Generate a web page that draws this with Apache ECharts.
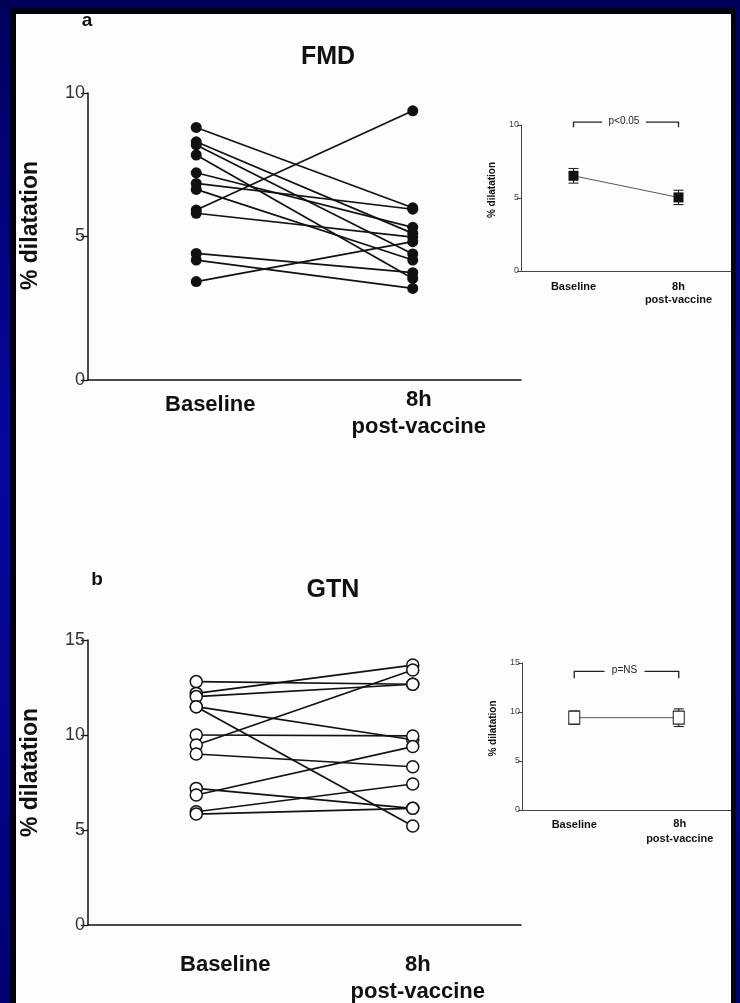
<!DOCTYPE html>
<html>
<head>
<meta charset="utf-8">
<script src="https://cdn.jsdelivr.net/npm/echarts@6/dist/echarts.min.js"></script>
<style>
  html, body { margin: 0; padding: 0; width: 740px; height: 1003px; overflow: hidden; }
  body { position: relative; background: linear-gradient(180deg, #00005c 0%, #0707a0 45%, #05058a 75%, #000070 100%); }
  #shadow { position: absolute; left: 10px; top: 8px; width: 726px; height: 1000px; background: #03030f; }
  #sheet { position: absolute; left: 16px; top: 14px; width: 715px; height: 989px; background: #fdfdfd; }
  #chart { position: absolute; left: 0; top: 0; width: 731px; height: 1003px; }
</style>
</head>
<body>
<div id="shadow"></div>
<div id="sheet"></div>
<div id="chart"></div>
<script>
// Paired measurements, one entry per subject (% dilatation)
const categories = ['Baseline', '8h\npost-vaccine'];
const fmdBaseline = [8.80, 8.30, 8.19, 7.84, 7.22, 6.85, 6.64, 5.92, 5.81, 4.41, 4.18, 3.43];
const fmdPost     = [6.00, 5.11, 4.39, 3.54, 5.32, 5.95, 4.18, 9.38, 4.98, 3.74, 3.19, 4.82];
const gtnBaseline = [12.81, 12.19, 12.02, 11.49, 11.49, 10.00, 9.47, 9.00, 7.19, 6.84, 5.96, 5.84];
const gtnPost     = [12.67, 13.68, 12.67, 9.75, 5.21, 9.95, 13.42, 8.33, 6.14, 9.39, 7.42, 6.14];

// Group summaries (mean and SEM) for the small panels
const fmdMean = [6.52, 5.04];
const fmdSem  = [0.50, 0.49];
const gtnMean = [9.42, 9.42];
const gtnSem  = [0.68, 0.90];

// Axis ticks
const fmdTicks = [0, 5, 10];
const gtnTicks = [0, 5, 10, 15];

// Significance annotations
const fmdNote = 'p<0.05';
const gtnNote = 'p=NS';

const FONT = 'Liberation Sans, Arial, sans-serif';
const INK = '#111';

const chart = echarts.init(document.getElementById('chart'), null, { renderer: 'canvas' });

function pairSeries(base, post, axisIdx, filled) {
  return base.map((b, i) => ({
    type: 'line',
    xAxisIndex: axisIdx,
    yAxisIndex: axisIdx,
    data: [b, post[i]],
    symbol: 'circle',
    symbolSize: filled ? 11 : 12,
    showAllSymbol: true,
    lineStyle: { color: INK, width: 1.7 },
    itemStyle: filled
      ? { color: INK, borderWidth: 0 }
      : { color: '#fff', borderColor: INK, borderWidth: 1.5 },
    emphasis: { disabled: true },
    silent: true,
    z: 3
  }));
}

function errorSeries(mean, sem, axisIdx, capHalf) {
  return {
    type: 'custom',
    xAxisIndex: axisIdx,
    yAxisIndex: axisIdx,
    data: mean.map((m, i) => [i, m - sem[i], m + sem[i]]),
    silent: true,
    z: 2,
    renderItem: (params, api) => {
      const lo = api.coord([api.value(0), api.value(1)]);
      const hi = api.coord([api.value(0), api.value(2)]);
      const st = { stroke: '#222', lineWidth: 1.1 };
      return {
        type: 'group',
        children: [
          { type: 'line', shape: { x1: hi[0], y1: hi[1], x2: lo[0], y2: lo[1] }, style: st },
          { type: 'line', shape: { x1: hi[0] - capHalf, y1: hi[1], x2: hi[0] + capHalf, y2: hi[1] }, style: st },
          { type: 'line', shape: { x1: lo[0] - capHalf, y1: lo[1], x2: lo[0] + capHalf, y2: lo[1] }, style: st }
        ]
      };
    }
  };
}

function bracketSeries(axisIdx, topVal, footVal, note, halfGap) {
  return {
    type: 'custom',
    xAxisIndex: axisIdx,
    yAxisIndex: axisIdx,
    data: [[0, 1, topVal, footVal]],
    silent: true,
    clip: false,
    z: 2,
    renderItem: (params, api) => {
      const a = api.coord([0, api.value(2)]);
      const b = api.coord([1, api.value(2)]);
      const footY = api.coord([0, api.value(3)])[1];
      const mid = (a[0] + b[0]) / 2 - 2;
      const st = { stroke: '#222', lineWidth: 1.3, fill: null };
      return {
        type: 'group',
        children: [
          { type: 'polyline', shape: { points: [[a[0], footY], [a[0], a[1]], [mid - halfGap, a[1]]] }, style: st },
          { type: 'polyline', shape: { points: [[mid + halfGap, b[1]], [b[0], b[1]], [b[0], footY]] }, style: st },
          { type: 'text', x: mid, y: a[1] - 1, style: { text: note, fill: '#222', font: '10px ' + FONT, align: 'center', verticalAlign: 'middle' } }
        ]
      };
    }
  };
}

function meanSeries(mean, axisIdx, filled) {
  return {
    type: 'line',
    xAxisIndex: axisIdx,
    yAxisIndex: axisIdx,
    data: mean,
    symbol: 'rect',
    symbolSize: filled ? [10, 10] : [11, 13],
    showAllSymbol: true,
    lineStyle: { color: '#555', width: 1 },
    itemStyle: filled
      ? { color: INK, borderWidth: 0 }
      : { color: '#fff', borderColor: '#222', borderWidth: 1.1 },
    emphasis: { disabled: true },
    silent: true,
    z: 3
  };
}

function bigYAxis(grid, ticks, shiftUp) {
  return {
    gridIndex: grid, type: 'value',
    min: ticks[0], max: ticks[ticks.length - 1], interval: ticks[1] - ticks[0],
    axisLine: { show: true, lineStyle: { color: INK, width: 1.5 } },
    axisTick: { show: true, length: 7, lineStyle: { color: INK, width: 1.3 } },
    axisLabel: { color: '#333', fontSize: 18, margin: 3, fontFamily: FONT },
    splitLine: { show: false },
    name: '% dilatation', nameLocation: 'middle', nameRotate: 90, nameGap: 46,
    nameTextStyle: { fontSize: 23, fontWeight: 'bold', color: INK, fontFamily: FONT, padding: [0, 0, 0, shiftUp * 2] }
  };
}

function smallYAxis(grid, ticks, shiftUp) {
  return {
    gridIndex: grid, type: 'value',
    min: ticks[0], max: ticks[ticks.length - 1], interval: ticks[1] - ticks[0],
    axisLine: { show: true, lineStyle: { color: '#444', width: 1 } },
    axisTick: { show: true, length: 4, lineStyle: { color: '#444', width: 1 } },
    axisLabel: { color: '#444', fontSize: 9, margin: 2, fontFamily: FONT },
    splitLine: { show: false },
    name: '% dilatation', nameLocation: 'middle', nameRotate: 90, nameGap: 24,
    nameTextStyle: { fontSize: 10, fontWeight: 'bold', color: INK, fontFamily: FONT, padding: [0, 0, 0, shiftUp * 2] }
  };
}

function catAxis(grid, o) {
  return {
    gridIndex: grid, type: 'category', data: categories, boundaryGap: true,
    axisLine: { show: true, lineStyle: { color: o.lineColor, width: o.lineWidth } },
    axisTick: { show: false },
    splitLine: { show: false },
    axisLabel: {
      interval: 0, margin: o.margin,
      formatter: (v, i) => v.split('\n').map(s => '{' + (i === 0 ? 'b' : 'p') + '|' + s + '}').join('\n'),
      rich: {
        b: { fontSize: o.size, fontWeight: 'bold', color: INK, fontFamily: FONT, lineHeight: o.lh, padding: [o.baseDown, 0, 0, o.baseRight * 2] },
        p: { fontSize: o.size, fontWeight: 'bold', color: INK, fontFamily: FONT, lineHeight: o.lh, padding: [0, 0, 0, o.postRight * 2] }
      }
    }
  };
}

const option = {
  backgroundColor: 'transparent',
  animation: false,
  grid: [
    { left: 88, top: 93, width: 433, height: 287 },
    { left: 521, top: 125, width: 222, height: 146 },
    { left: 88, top: 640, width: 433, height: 285 },
    { left: 522, top: 663, width: 222, height: 147 }
  ],
  xAxis: [
    catAxis(0, { lineColor: INK, lineWidth: 1.5, margin: 6, size: 22, lh: 27, baseDown: 11, baseRight: 14, postRight: 6 }),
    catAxis(1, { lineColor: '#444', lineWidth: 1, margin: 9, size: 11, lh: 13, baseDown: 0, baseRight: 0, postRight: 0 }),
    catAxis(2, { lineColor: INK, lineWidth: 1.5, margin: 26, size: 22, lh: 27, baseDown: 0, baseRight: 29, postRight: 5 }),
    catAxis(3, { lineColor: '#444', lineWidth: 1, margin: 6, size: 11, lh: 15, baseDown: 3, baseRight: 0, postRight: 1 })
  ],
  yAxis: [
    bigYAxis(0, fmdTicks, 11),
    smallYAxis(1, fmdTicks, 8),
    bigYAxis(2, gtnTicks, 10),
    smallYAxis(3, gtnTicks, 8)
  ],
  graphic: [
    { type: 'text', x: 87, y: 21, style: { text: 'a', font: 'bold 19px ' + FONT, fill: INK, align: 'center', verticalAlign: 'middle' } },
    { type: 'text', x: 328, y: 57, style: { text: 'FMD', font: 'bold 25px ' + FONT, fill: INK, align: 'center', verticalAlign: 'middle' } },
    { type: 'text', x: 97, y: 580, style: { text: 'b', font: 'bold 19px ' + FONT, fill: INK, align: 'center', verticalAlign: 'middle' } },
    { type: 'text', x: 333, y: 590, style: { text: 'GTN', font: 'bold 25px ' + FONT, fill: INK, align: 'center', verticalAlign: 'middle' } }
  ],
  series: [
    ...pairSeries(fmdBaseline, fmdPost, 0, true),
    errorSeries(fmdMean, fmdSem, 1, 5),
    meanSeries(fmdMean, 1, true),
    bracketSeries(1, 10.2, 9.85, fmdNote, 22),
    ...pairSeries(gtnBaseline, gtnPost, 2, false),
    errorSeries(gtnMean, gtnSem, 3, 5),
    meanSeries(gtnMean, 3, false),
    bracketSeries(3, 14.15, 13.45, gtnNote, 20)
  ]
};

chart.setOption(option);
</script>
</body>
</html>
